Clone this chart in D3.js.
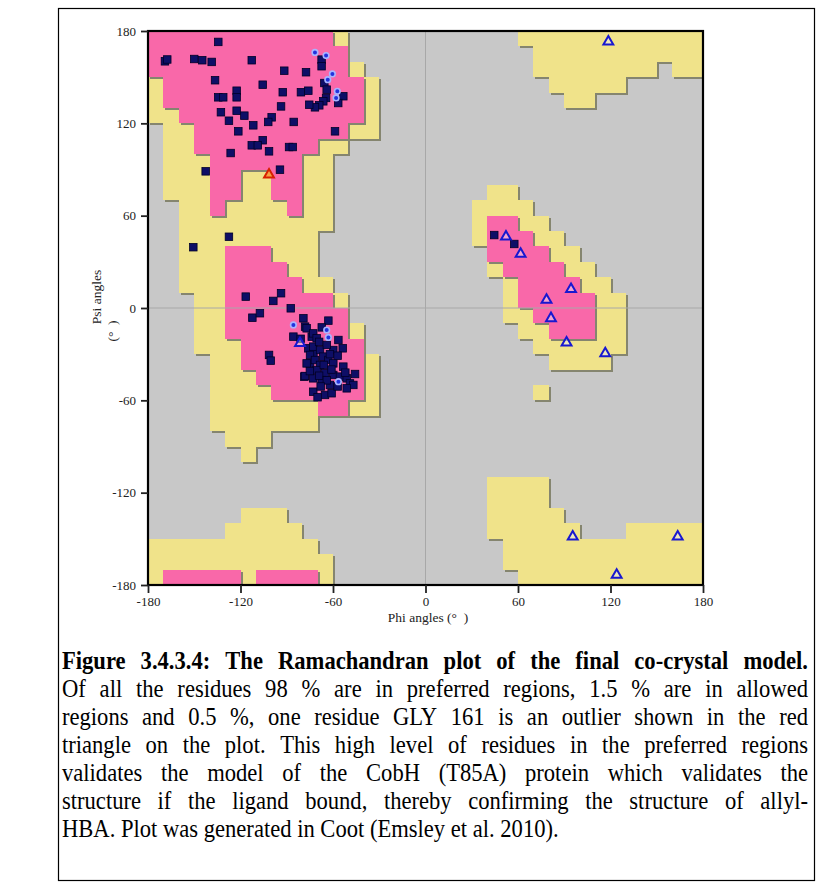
<!DOCTYPE html>
<html><head><meta charset="utf-8">
<script src="https://cdn.jsdelivr.net/npm/d3@7"></script>
<style>
html,body{margin:0;padding:0;background:#fff;}
svg{display:block;}
</style></head>
<body>
<script>
// ---------------- DATA ----------------
const phiTicks = [-180,-120,-60,0,60,120,180];
const psiTicks = [180,120,60,0,-60,-120,-180];
// allowed envelope: [psi lower bound of 10° row, phi from, phi to]
const allowedRuns = [
 [170,-180,-50],[160,-180,-50],[150,-180,-40],[140,-180,-30],[130,-180,-30],[120,-180,-30],
 [110,-170,-30],[100,-170,-50],[90,-170,-60],[80,-170,-60],[70,-170,-60],[60,-160,-60],
 [50,-160,-60],[40,-160,-70],[30,-160,-70],[20,-160,-70],[10,-160,-60],[0,-150,-50],
 [-10,-150,-50],[-20,-150,-40],[-30,-150,-40],[-40,-140,-30],[-50,-140,-30],[-60,-140,-30],
 [-70,-140,-30],[-80,-140,-70],[-90,-130,-100],[-100,-120,-110],
 [-140,-120,-90],[-150,-130,-80],[-160,-180,-70],[-170,-180,-60],[-180,-180,-60],
 [70,40,60],[60,30,70],[50,30,80],[40,30,90],[30,40,100],[20,40,110],[10,50,120],
 [0,50,130],[-10,50,130],[-20,60,130],[-30,70,130],[-40,80,120],[-60,70,80],
 [170,60,180],[160,70,180],[150,70,150],[150,160,180],[140,80,130],[130,90,110],
 [-120,40,80],[-130,40,80],[-140,40,90],[-150,40,100],[-150,130,180],[-160,50,180],
 [-170,50,180],[-180,60,180]
];
const preferredRuns = [
 [170,-180,-60],[160,-180,-50],[150,-180,-50],[140,-170,-40],[130,-170,-40],[120,-160,-40],
 [110,-150,-50],[100,-150,-70],[90,-140,-80],[80,-140,-120],[80,-100,-80],[70,-140,-120],
 [70,-100,-80],[60,-140,-130],[60,-90,-80],
 [30,-130,-100],[20,-130,-90],[10,-130,-80],[0,-130,-60],[-10,-130,-50],[-20,-130,-50],
 [-30,-120,-40],[-40,-120,-40],[-50,-110,-40],[-60,-100,-40],[-70,-70,-50],
 [-180,-170,-120],[-180,-110,-70],
 [50,40,60],[40,40,70],[30,40,80],[20,50,90],[10,60,100],[0,60,110],[-10,70,110],[-20,80,110]
];
// residues [phi, psi]
const generalResidues = [
 [-134.4,172.9],[-169,160.3],[-167.5,161.5],[-150,161.8],[-144.8,161],[-138.7,159.9],[-112.7,161],
 [-91.6,154.2],[-77.5,153.2],[-136.5,148],[-105.6,145.1],[-122.5,141.2],[-122.5,136.9],[-92.6,140.2],
 [-80.8,140.2],[-76,141.2],[-134.4,136.9],[-131.2,136.9],[-93.7,131],[-132.7,127.2],[-122.5,128.2],
 [-117.5,125],[-127.5,121.7],[-99.8,123.9],[-102,120.9],[-111.7,118.7],[-85.5,120.9],[-121.4,114.8],
 [-105.6,109],[-112.7,105.7],[-108.8,105.7],[-88.5,104.6],[-86.1,104.6],[-101.5,101.8],[-126.4,100.7],
 [-142.6,88.8],[-94.4,89.9],
 [-67.4,161.4],[-67.4,157.1],[-65.6,146.2],[-64.1,141.9],[-53.3,137.6],[-56.6,133.2],[-64.5,136.5],
 [-66.3,134.3],[-68.9,131.7],[-71.7,130.4],[-75.4,132.1],[-58.7,114.8],
 [-150.6,39.5],[-127.5,46.3],
 [-116.6,7.4],[-98.7,4.6],[-93.7,9.6],[-87.4,-0.2],[-112.3,-6.3],[-107.4,-3.4],[-101.5,-30.5],[-100.4,-34.2],
 [-79.2,-6.7],[-85.7,-18.6],[-78.1,-12.1],[-73.8,-18.6],[-76,-26.2],[-72.7,-29.4],[-74.9,-36],[-78.6,-44.6],
 [-72.8,-54.4],[-63,-8.2],[-67.3,-12.6],[-77.1,-13.2],[-72.8,-16.5],[-70.6,-19.7],[-56.5,-20.8],[-53.7,-26.2],
 [-59.8,-27.3],[-72.8,-25.1],[-68.4,-27.3],[-74.9,-30.5],[-66.3,-31.6],[-71.7,-33.8],[-63,-33.8],[-59.8,-36],
 [-77.1,-36],[-68.4,-37],[-53.3,-38.1],[-45.7,-42.9],[-70.6,-40.3],[-65.2,-42.4],[-59.8,-43.5],[-55.5,-44.6],
 [-51.1,-45.7],[-78.2,-44.2],[-72.8,-45.7],[-67.3,-46.8],[-62,-50],[-49,-49],[-46.8,-50],[-65.2,-56.5],
 [-60.9,-55.4],[-51.1,-52.2],[-69,-22],[-64,-24],[-62,-30],[-57,-31],[-66,-37],[-61,-40],[-69,-44],
 [-75,-41],[-64,-47],[-57,-51],[-68,-51],[-52,-42],[-81,-20],[-70,-58],
 [44.6,47.4],[57.6,41.6]
];
const prolineResidues = [
 [-71.7,166.1],[-64.5,164],[-60.4,152.1],[-63.4,148.4],[-57.2,140.8],[-58,136.5],
 [-85.7,-11],[-64.1,-14.3],[-63,-19.1],[-56.5,-47.9]
];
const glycineResidues = [
 [52.2,46.3],[61.7,35.1],[94.4,12.3],[78.5,5.2],[81.4,-6.7],[91.5,-22.5],[116.6,-29.5],
 [118.6,173],[95.5,-148.6],[163.6,-148.6],[124,-173.5],[-81.4,-22.9]
];
const outlierResidues = [[-101.5,86.6]];

const captionTitle = "Figure 3.4.3.4: The Ramachandran plot of the final co-crystal model.";
const captionLines = [
 "Of all the residues 98 % are in preferred regions, 1.5 % are in allowed",
 "regions and 0.5 %, one residue GLY 161 is an outlier shown in the red",
 "triangle on the plot. This high level of residues in the preferred regions",
 "validates the model of the CobH (T85A) protein which validates the",
 "structure if the ligand bound, thereby confirming the structure of allyl-",
 "HBA. Plot was generated in Coot (Emsley et al. 2010)."
];

// ---------------- DRAW ----------------
const W = 819, H = 888;
const svg = d3.select("body").append("svg").attr("width", W).attr("height", H);
const serif = "'Liberation Serif','Times New Roman',Times,serif";

// outer figure frame
svg.append("rect").attr("x",58.5).attr("y",8.5).attr("width",756).attr("height",872)
  .attr("fill","none").attr("stroke","#000").attr("stroke-width",1.2);

const x = d3.scaleLinear().domain([-180,180]).range([148,703]);
const y = d3.scaleLinear().domain([-180,180]).range([585,31]);

svg.append("clipPath").attr("id","plotclip").append("rect")
  .attr("x",x(-180)).attr("y",y(180)).attr("width",x(180)-x(-180)).attr("height",y(-180)-y(180));

const plot = svg.append("g").attr("clip-path","url(#plotclip)");
plot.append("rect").attr("x",x(-180)).attr("y",y(180)).attr("width",x(180)-x(-180))
  .attr("height",y(-180)-y(180)).attr("fill","#c8c8c8");

function runsPath(runs){
  const p = d3.path();
  runs.forEach(([psiLo,phiA,phiB])=>{
    const x0 = x(phiA), x1 = x(phiB), y0 = y(psiLo+10), y1 = y(psiLo);
    p.moveTo(x0,y0); p.lineTo(x1,y0); p.lineTo(x1,y1); p.lineTo(x0,y1); p.closePath();
  });
  return p.toString();
}
function layer(runs, fill){
  plot.append("path").attr("d",runsPath(runs)).attr("fill","#85856f")
    .attr("transform","translate(2,2)").attr("shape-rendering","crispEdges");
  plot.append("path").attr("d",runsPath(runs)).attr("fill",fill).attr("shape-rendering","crispEdges");
}
layer(allowedRuns, "#f0e38a");
layer(preferredRuns, "#f968a9");

// zero lines
plot.append("line").attr("x1",x(0)).attr("x2",x(0)).attr("y1",y(180)).attr("y2",y(-180))
  .attr("stroke","#a8a8a8").attr("stroke-width",1);
plot.append("line").attr("x1",x(-180)).attr("x2",x(180)).attr("y1",y(0)).attr("y2",y(0))
  .attr("stroke","#a8a8a8").attr("stroke-width",1);

// residues
const sq = 7.5;
plot.selectAll("rect.gen").data(generalResidues).join("rect").attr("class","gen")
  .attr("x",d=>x(d[0])-sq/2).attr("y",d=>y(d[1])-sq/2).attr("width",sq).attr("height",sq)
  .attr("fill","#0e0e66").attr("stroke","#000028").attr("stroke-width",0.8);
plot.selectAll("circle.pro").data(prolineResidues).join("circle").attr("class","pro")
  .attr("cx",d=>x(d[0])).attr("cy",d=>y(d[1])).attr("r",2.8)
  .attr("fill","#2233dd").attr("stroke","#a9b4ff").attr("stroke-width",1.6);
const tri = d3.symbol().type(d3.symbolTriangle).size(42);
plot.selectAll("path.gly").data(glycineResidues).join("path").attr("class","gly")
  .attr("d",tri).attr("transform",d=>`translate(${x(d[0])},${y(d[1])})`)
  .attr("fill","rgba(235,235,255,0.45)").attr("stroke","#1818d0").attr("stroke-width",2);
plot.selectAll("path.out").data(outlierResidues).join("path").attr("class","out")
  .attr("d",tri).attr("transform",d=>`translate(${x(d[0])},${y(d[1])})`)
  .attr("fill","#f4a043").attr("stroke","#d82000").attr("stroke-width",2);

// plot frame
svg.append("rect").attr("x",x(-180)).attr("y",y(180)).attr("width",x(180)-x(-180))
  .attr("height",y(-180)-y(180)).attr("fill","none").attr("stroke","#000").attr("stroke-width",2.2);

// axes
const yAxis = svg.append("g").attr("transform",`translate(${x(-180)},0)`)
  .call(d3.axisLeft(y).tickValues(psiTicks).tickFormat(d=>String(d)).tickSize(7).tickPadding(5));
const xAxis = svg.append("g").attr("transform",`translate(0,${y(-180)})`)
  .call(d3.axisBottom(x).tickValues(phiTicks).tickFormat(d=>String(d)).tickSize(8).tickPadding(4));
[yAxis,xAxis].forEach(g=>{
  g.select(".domain").remove();
  g.selectAll(".tick line").attr("stroke","#222").attr("stroke-width",1.8);
  g.selectAll(".tick text").attr("font-family",serif).attr("font-size",13).attr("fill","#222");
});

svg.append("text").attr("x",428).attr("y",622).attr("text-anchor","middle")
  .attr("font-family",serif).attr("font-size",13.5).attr("fill","#222")
  .style("white-space","pre").text("Phi angles (°  )");
svg.append("text").attr("transform","translate(101,297) rotate(-90)").attr("text-anchor","middle")
  .attr("font-family",serif).attr("font-size",13.5).attr("fill","#222").text("Psi angles");
svg.append("text").attr("transform","translate(117,331) rotate(-90)").attr("text-anchor","middle")
  .attr("font-family",serif).attr("font-size",13.5).attr("fill","#222")
  .style("white-space","pre").text("(°  )");

// caption (Times-like text, slightly condensed horizontally as in the scan)
const capLeft = 62, capRight = 808, capFont = 24.5, capScaleX = 0.922, lineGap = 28;
const capG = svg.append("g").attr("transform",`translate(${capLeft},0) scale(${capScaleX},1)`);
const capWidth = (capRight-capLeft)/capScaleX;
function spaceWidth(bold){
  const tmp = capG.append("text").attr("font-family",serif).attr("font-size",capFont)
    .attr("font-weight",bold?"bold":"normal").style("white-space","pre").text("a a");
  const a = tmp.node().getComputedTextLength(); tmp.text("aa");
  const b = tmp.node().getComputedTextLength(); tmp.remove(); return a-b;
}
function captionLine(str, baseY, bold, justify){
  const words = str.split(" ");
  const t = capG.append("text").attr("y",baseY).attr("font-family",serif)
    .attr("font-size",capFont).attr("font-weight",bold?"bold":"normal").attr("fill","#000");
  const spans = words.map(w=>t.append("tspan").text(w));
  const widths = spans.map(s=>s.node().getComputedTextLength());
  const total = d3.sum(widths);
  const gap = justify ? (capWidth-total)/(words.length-1) : spaceWidth(bold);
  let cx = 0;
  spans.forEach((s,i)=>{ s.attr("x",cx); cx += widths[i]+gap; });
}
captionLine(captionTitle, 669, true, true);
captionLines.forEach((l,i)=>captionLine(l, 669+lineGap*(i+1), false, i<captionLines.length-1));
</script>
</body></html>
